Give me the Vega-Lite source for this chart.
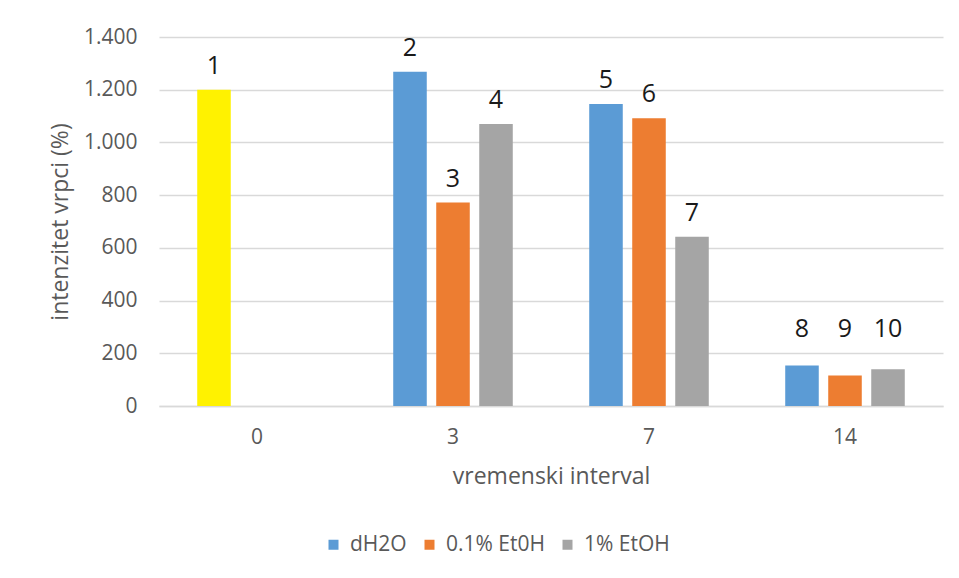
{
  "$schema": "https://vega.github.io/schema/vega-lite/v6.json",
  "autosize": {"type": "none"},
  "width": 784,
  "height": 369,
  "padding": {"left": 159, "top": 37, "right": 16, "bottom": 172},
  "background": "white",
  "config": {
    "font": "Open Sans",
    "view": {"stroke": null},
    "axis": {"labelFont": "Open Sans", "titleFont": "Open Sans", "labelColor": "#595959", "titleColor": "#595959", "titleFontWeight": "normal"},
    "legend": {"labelFont": "Open Sans", "labelColor": "#595959"}
  },
  "data": {
    "values": [
      {"t": "0", "series": "dH2O", "value": 1200, "label": "1"},
      {"t": "3", "series": "dH2O", "value": 1268, "label": "2"},
      {"t": "3", "series": "0.1% Et0H", "value": 772, "label": "3"},
      {"t": "3", "series": "1% EtOH", "value": 1070, "label": "4"},
      {"t": "7", "series": "dH2O", "value": 1146, "label": "5"},
      {"t": "7", "series": "0.1% Et0H", "value": 1092, "label": "6"},
      {"t": "7", "series": "1% EtOH", "value": 642, "label": "7"},
      {"t": "14", "series": "dH2O", "value": 154, "label": "8"},
      {"t": "14", "series": "0.1% Et0H", "value": 116, "label": "9"},
      {"t": "14", "series": "1% EtOH", "value": 139, "label": "10"}
    ]
  },
  "encoding": {
    "x": {
      "field": "t", "type": "ordinal", "sort": ["0", "3", "7", "14"],
      "scale": {"paddingInner": 0.39, "paddingOuter": 0.195},
      "axis": {"title": "vremenski interval", "labelAngle": 0, "labelFontSize": 21, "titleFontSize": 23, "labelPadding": 20, "titlePadding": 18, "ticks": false, "tickSize": 0, "domainColor": "#d9d9d9", "domainWidth": 1.5}
    },
    "xOffset": {
      "field": "series", "type": "nominal", "sort": ["dH2O", "0.1% Et0H", "1% EtOH"],
      "scale": {"paddingInner": 0.22, "paddingOuter": 0}
    }
  },
  "layer": [
    {
      "mark": {"type": "bar"},
      "encoding": {
        "y": {
          "field": "value", "type": "quantitative",
          "scale": {"domain": [0, 1400], "nice": false},
          "axis": {"title": "intenzitet vrpci (%)", "values": [0, 200, 400, 600, 800, 1000, 1200, 1400], "labelExpr": "replace(format(datum.value, ','), ',', '.')", "labelFontSize": 21, "titleFontSize": 23, "labelPadding": 22, "titlePadding": 11, "ticks": false, "tickSize": 0, "domain": false, "gridColor": "#d9d9d9", "gridWidth": 1.5}
        },
        "color": {
          "condition": {"test": "datum.t === '0'", "value": "#FFF200"},
          "field": "series", "type": "nominal",
          "sort": ["dH2O", "0.1% Et0H", "1% EtOH"],
          "scale": {"domain": ["dH2O", "0.1% Et0H", "1% EtOH"], "range": ["#5B9BD5", "#ED7D31", "#A5A5A5"]},
          "legend": {"title": null, "orient": "none", "direction": "horizontal", "legendX": 164, "legendY": 497, "symbolType": "square", "symbolSize": 100, "symbolStrokeWidth": 0, "labelFontSize": 21, "columnPadding": 12, "labelOffset": 6}
        }
      }
    },
    {
      "transform": [{"filter": "datum.t !== '14'"}],
      "mark": {"type": "text", "baseline": "alphabetic", "dy": -16, "fontSize": 25, "color": "#1a1a1a"},
      "encoding": {
        "y": {"field": "value", "type": "quantitative"},
        "text": {"field": "label"}
      }
    },
    {
      "transform": [{"filter": "datum.t === '14'"}],
      "mark": {"type": "text", "baseline": "alphabetic", "dy": -16, "fontSize": 25, "color": "#1a1a1a"},
      "encoding": {
        "y": {"datum": 200, "type": "quantitative"},
        "text": {"field": "label"}
      }
    }
  ]
}
